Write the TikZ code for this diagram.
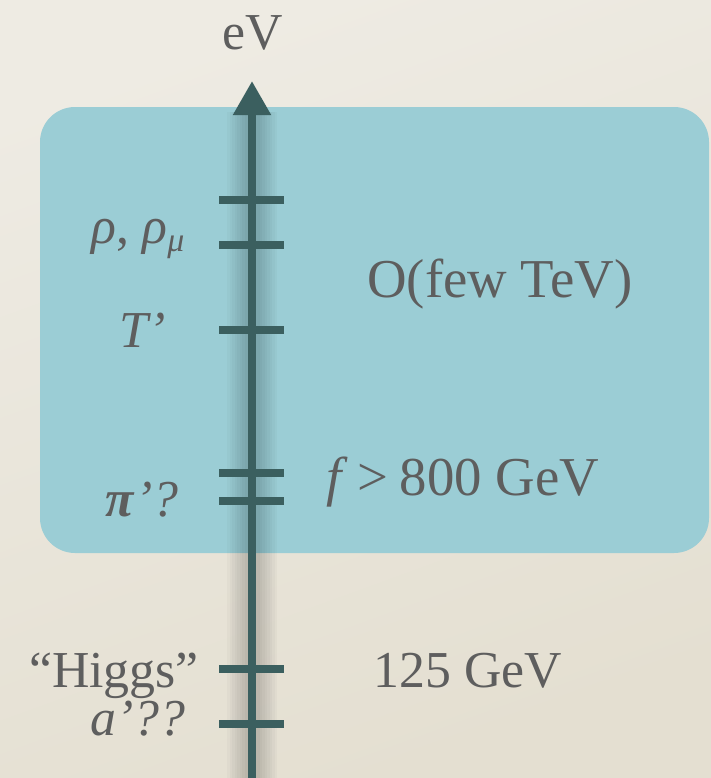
\documentclass[tikz,border=0pt]{standalone}
\usepackage{fontspec}
\setmainfont{Liberation Serif}
\usepackage{xcolor}
\usepackage{tikz}
\usetikzlibrary{arrows.meta,positioning}
\definecolor{paperlight}{HTML}{EEEBE3}
\definecolor{paperdark}{HTML}{E4DFD1}
\definecolor{bandblue}{HTML}{9BCDD5}
\definecolor{axisgreen}{HTML}{3B5F5F}
\definecolor{labelgray}{HTML}{5E5E5E}
\tikzset{
    paper/.style={top color=paperlight, bottom color=paperdark, shading angle=20},
    band/.style={fill=bandblue, rounded corners=35bp},
    axisline/.style={line width=8bp, draw=axisgreen, -{Triangle[width=36bp, length=34bp]}},
    glow/.style={draw=black, opacity=0.022},
    scalemark/.style={line width=8bp, draw=axisgreen},
    lbl/.style={anchor=base, inner sep=0pt, text=labelgray, font=\fontsize{52}{56}\selectfont},
    biglbl/.style={lbl, font=\fontsize{55}{60}\selectfont},
}

\begin{document}
\begin{tikzpicture}[x=1bp, y=-1bp]
    \useasboundingbox (0,0) rectangle (711,778);
    \shade[paper] (0,0) rectangle (711,778);
    \fill[band] (40,107) rectangle (709,553);

    % energy axis
    \coordinate (bottom) at (252,778);
    \coordinate (tip) at (252,81);
    \coordinate (glowtop) at (252,112);
    \foreach \w in {50,45,40,35,30,25,20,15}
        \draw[glow, line width=\w bp] (bottom) -- (glowtop);
    \draw[axisline] (bottom) -- (tip);
    \foreach \y in {200,245,330,473,501,669,724}
        \draw[scalemark] (219,\y) -- (284,\y);

    \node[lbl] (unit) at (253,50) {eV};

    % left labels
    \node[lbl] (rho) at (138,243) {\textit{ρ}, \textit{ρ}\raisebox{-8bp}{\fontsize{34}{36}\selectfont\textit{μ}}};
    \node[lbl] (tprime) at (143,347) {\textit{T’}};
    \node[lbl] (piprime) at (142,516) {\textbf{\textit{π}}\textit{’?}};
    \node[lbl] (higgs) at (114,687) {“Higgs”};
    \node[lbl] (aprime) at (138,735) {\textit{a’??}};

    % right labels
    \node[biglbl] (few) at (500,297) {O(few TeV)};
    \node[biglbl] (fscale) at (463,495) {\textit{f}\hspace{0.16em}>\hspace{0.22em}800 GeV};
    \node[lbl] (mh) at (468,687) {125 GeV};
\end{tikzpicture}
\end{document}
